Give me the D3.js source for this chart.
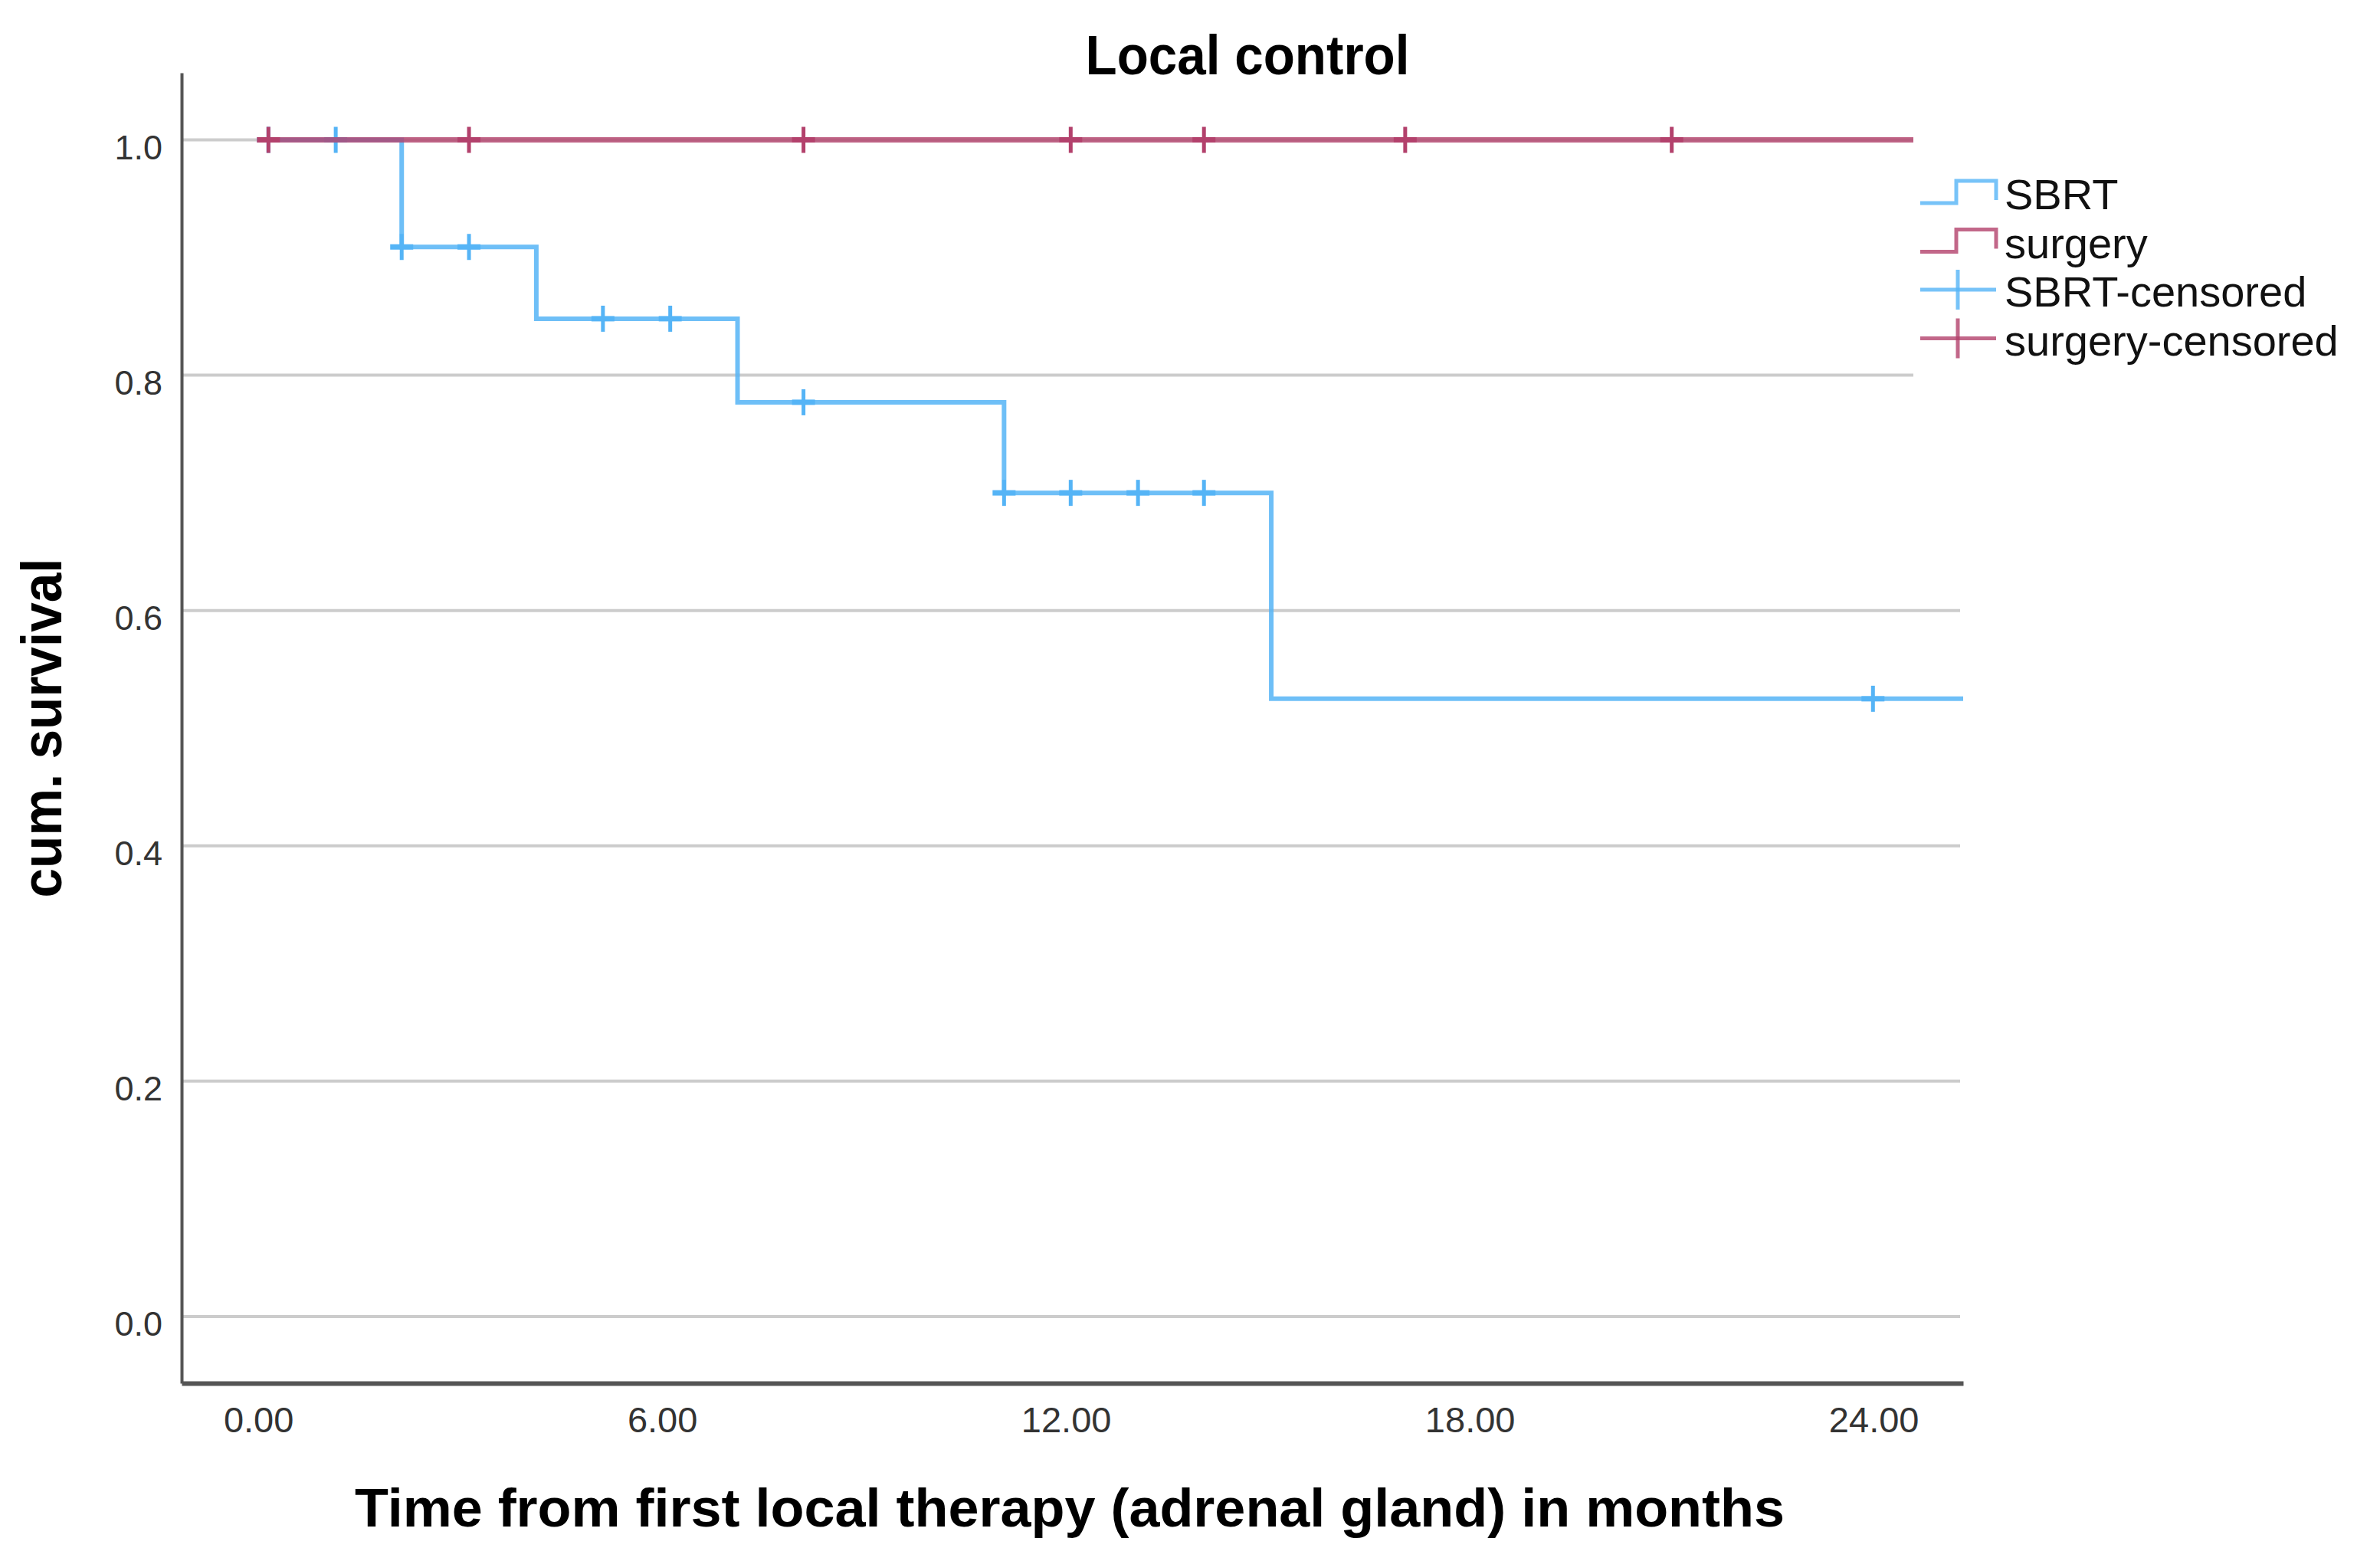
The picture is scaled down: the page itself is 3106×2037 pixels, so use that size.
<!DOCTYPE html>
<html>
<head>
<meta charset="utf-8">
<script src="https://cdn.jsdelivr.net/npm/d3@7"></script>
<style>
  html, body { margin: 0; padding: 0; background: #fff; }
  svg { display: block; }
</style>
</head>
<body>
<div id="chart"></div>
<script>
// chart data (months / cumulative survival)
const sbrtTimes = [0, 2.13, 4.13, 7.12, 11.08, 15.05];
const sbrtSurv = [1.0, 0.909, 0.848, 0.777, 0.700, 0.525];
const sbrtLastFollowUp = 25.33;
const sbrtCensored = [0.15, 1.15, 2.13, 3.13, 5.12, 6.12, 8.10, 11.08, 12.07, 13.07, 14.05, 23.99];

const surgeryTimes = [0];
const surgerySurv = [1.0];
const surgeryLastFollowUp = 24.6;
const surgeryCensored = [0.15, 3.13, 8.10, 12.07, 14.05, 17.04, 21.0];

const xTicks = [0, 6, 12, 18, 24];
const yTicks = [0, 0.2, 0.4, 0.6, 0.8, 1.0];
const legendLabels = ["SBRT", "surgery", "SBRT-censored", "surgery-censored"];

// layout
const width = 3106, height = 2037;
const plot = { left: 237, right: 2562, top: 95, bottom: 1805 };
const blue = "#55b4f6";
const pink = "#b3416c";

const svg = d3.select("#chart").append("svg")
    .attr("width", width)
    .attr("height", height);

svg.append("rect").attr("width", width).attr("height", height).attr("fill", "#fff");

const x = d3.scaleLinear()
    .domain([-1.14, 25.33])
    .range([plot.left, plot.right]);

const y = d3.scaleLinear()
    .domain([-0.0567, 1.057])
    .range([plot.bottom, plot.top]);

// gridlines
svg.append("g").selectAll("line")
    .data(yTicks)
    .enter().append("line")
    .attr("x1", plot.left)
    .attr("x2", plot.right - 4)
    .attr("y1", d => y(d))
    .attr("y2", d => y(d))
    .attr("stroke", "#cccccc")
    .attr("stroke-width", 4);

// axes
const yAxis = svg.append("g")
    .attr("transform", `translate(${plot.left},0)`)
    .call(d3.axisLeft(y).tickValues(yTicks).tickSize(0).tickSizeOuter(0)
        .tickPadding(25).tickFormat(d3.format(".1f")));
yAxis.select(".domain").attr("stroke", "#555").attr("stroke-width", 4);
yAxis.selectAll("text")
    .attr("dy", "0.55em")
    .style("font-family", "'Liberation Sans', Arial, sans-serif")
    .style("font-size", "45px")
    .attr("fill", "#333");

const xAxis = svg.append("g")
    .attr("transform", `translate(0,${plot.bottom})`)
    .call(d3.axisBottom(x).tickValues(xTicks).tickSize(0).tickSizeOuter(0)
        .tickPadding(31).tickFormat(d3.format(".2f")));
xAxis.select(".domain").attr("stroke", "#555").attr("stroke-width", 6);
xAxis.selectAll("text")
    .style("font-family", "'Liberation Sans', Arial, sans-serif")
    .style("font-size", "47px")
    .attr("fill", "#333");

// step curves
const stepLine = d3.line()
    .x(d => x(d.t))
    .y(d => y(d.s))
    .curve(d3.curveStepAfter);

function stepPoints(times, surv, last) {
    const pts = times.map((t, i) => ({ t: t, s: surv[i] }));
    pts.push({ t: last, s: surv[surv.length - 1] });
    return pts;
}

// survival at a given time (for placing censor marks)
function survAt(times, surv, t) {
    let s = surv[0];
    times.forEach((tt, i) => { if (tt <= t) s = surv[i]; });
    return s;
}

function drawCensor(times, censored, surv, color, width) {
    const g = svg.append("g");
    censored.forEach(t => {
        const cx = x(t), cy = y(survAt(times, surv, t));
        g.append("line").attr("x1", cx).attr("x2", cx)
            .attr("y1", cy - 17).attr("y2", cy + 17)
            .attr("stroke", color).attr("stroke-width", width);
        g.append("line").attr("x1", cx - 15).attr("x2", cx + 15)
            .attr("y1", cy).attr("y2", cy)
            .attr("stroke", color).attr("stroke-width", width + 2);
    });
}

svg.append("path")
    .attr("d", stepLine(stepPoints(sbrtTimes, sbrtSurv, sbrtLastFollowUp)))
    .attr("fill", "none")
    .attr("stroke", blue)
    .attr("stroke-opacity", 0.85)
    .attr("stroke-width", 6);
drawCensor(sbrtTimes, sbrtCensored, sbrtSurv, blue, 5);

svg.append("path")
    .attr("d", stepLine(stepPoints(surgeryTimes, surgerySurv, surgeryLastFollowUp)))
    .attr("fill", "none")
    .attr("stroke", pink)
    .attr("stroke-opacity", 0.8)
    .attr("stroke-width", 7);
drawCensor(surgeryTimes, surgeryCensored, surgerySurv, pink, 5);

// legend
const legend = svg.append("g");
legend.append("rect")
    .attr("x", 2497).attr("y", 160)
    .attr("width", width - 2497).attr("height", 350)
    .attr("fill", "#fff");

const legendColors = [blue, pink, blue, pink];
legendLabels.forEach((label, i) => {
    const b = 273 + i * 63.5;
    const c = legendColors[i];
    if (i < 2) {
        legend.append("path")
            .attr("d", d3.line()([[2506, b - 8], [2553, b - 8], [2553, b - 37], [2605, b - 37], [2605, b - 12]]))
            .attr("fill", "none")
            .attr("stroke", c)
            .attr("stroke-opacity", 0.8)
            .attr("stroke-width", 5);
    } else {
        legend.append("line")
            .attr("x1", 2506).attr("x2", 2605)
            .attr("y1", b - 22).attr("y2", b - 22)
            .attr("stroke", c).attr("stroke-opacity", 0.8).attr("stroke-width", 5);
        legend.append("line")
            .attr("x1", 2555).attr("x2", 2555)
            .attr("y1", b - 48).attr("y2", b + 4)
            .attr("stroke", c).attr("stroke-opacity", 0.8).attr("stroke-width", 5);
    }
    legend.append("text")
        .attr("x", 2616)
        .attr("y", b)
        .style("font-family", "'Liberation Sans', Arial, sans-serif")
        .style("font-size", "56px")
        .attr("fill", "#111")
        .text(label);
});

// titles
svg.append("text")
    .attr("x", 1628).attr("y", 97)
    .attr("text-anchor", "middle")
    .attr("textLength", 423).attr("lengthAdjust", "spacingAndGlyphs")
    .style("font-family", "'Liberation Sans', Arial, sans-serif")
    .style("font-size", "72px")
    .style("font-weight", "bold")
    .text("Local control");

svg.append("text")
    .attr("transform", "translate(80,950) rotate(-90)")
    .attr("text-anchor", "middle")
    .attr("textLength", 443).attr("lengthAdjust", "spacingAndGlyphs")
    .style("font-family", "'Liberation Sans', Arial, sans-serif")
    .style("font-size", "74px")
    .style("font-weight", "bold")
    .text("cum. survival");

svg.append("text")
    .attr("x", 1396).attr("y", 1992)
    .attr("text-anchor", "middle")
    .attr("textLength", 1866).attr("lengthAdjust", "spacingAndGlyphs")
    .style("font-family", "'Liberation Sans', Arial, sans-serif")
    .style("font-size", "70px")
    .style("font-weight", "bold")
    .text("Time from first local therapy (adrenal gland) in months");
</script>
</body>
</html>
